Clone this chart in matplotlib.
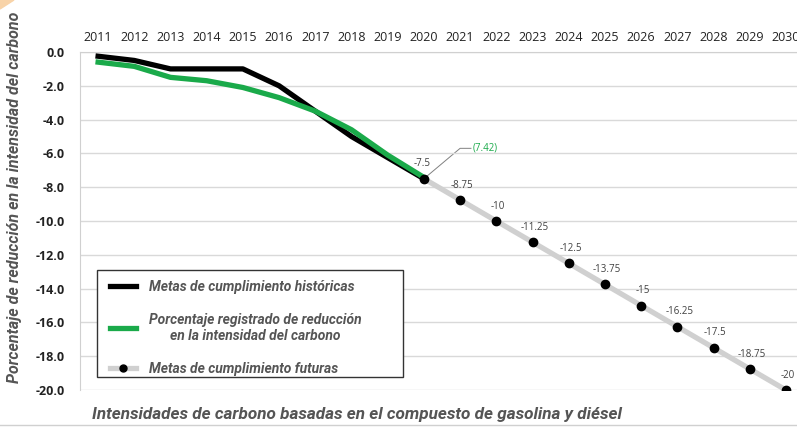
import matplotlib.pyplot as plt
from matplotlib.patches import Polygon, Rectangle
import numpy as np

years = ['2011', '2012', '2013', '2014', '2015', '2016', '2017', '2018', '2019', '2020',
         '2021', '2022', '2023', '2024', '2025', '2026', '2027', '2028', '2029', '2030']
historicas = [-0.25, -0.5, -1.0, -1.0, -1.0, -2.0, -3.5, -5.0, -6.25, -7.5]
registrado = [-0.6, -0.85, -1.5, -1.7, -2.1, -2.7, -3.5, -4.6, -6.1, -7.42]
futuras = [-7.5, -8.75, -10, -11.25, -12.5, -13.75, -15, -16.25, -17.5, -18.75, -20]
futuras_lbl = ['-7.5', '-8.75', '-10', '-11.25', '-12.5', '-13.75', '-15', '-16.25', '-17.5', '-18.75', '-20']
yticks = [0, -2, -4, -6, -8, -10, -12, -14, -16, -18, -20]

cond = ['Roboto', 'DejaVu Sans']
txt_gray = '#555555'
verde = '#1aaa4a'

fig = plt.figure(figsize=(7.97, 4.29), dpi=100)
ax = fig.add_axes([80 / 797, 1 - 390 / 429, 724 / 797, 338 / 429])

x_hist = np.arange(len(historicas))
x_fut = np.arange(9, 9 + len(futuras))

ax.plot(x_fut, futuras, color='#d0d0d0', lw=3.8, zorder=2, solid_capstyle='butt')
ax.plot(x_fut, futuras, 'o', color='black', ms=6, zorder=4)
ax.plot(x_hist, historicas, color='black', lw=3.8, zorder=3)
ax.plot(x_hist, registrado, color=verde, lw=3.8, zorder=3)

for x, y, t in zip(x_fut, futuras, futuras_lbl):
    dx = -0.05 if x == 9 else 0.05
    ax.text(x + dx, y + 0.55, t, ha='center', va='bottom', fontsize=7,
            color='#404040', family='Open Sans')

ax.plot([9, 10, 10.3], [-7.5, -5.7, -5.7], color='#808080', lw=0.7, zorder=1)
ax.text(10.35, -5.7, '(7.42)', color=verde, fontsize=7, va='center',
        family='Open Sans')

ax.set_xlim(-0.5, 19.5)
ax.set_ylim(-20, 0)
ax.set_yticks(yticks)
ax.set_yticklabels(['%.1f' % v for v in yticks], fontweight='bold', family='Open Sans',
                   fontsize=9, color='#222222')
ax.xaxis.tick_top()
ax.set_xticks(np.arange(len(years)))
ax.set_xticklabels(years, family='Open Sans', fontsize=9, color='#222222')
ax.tick_params(axis='x', length=0, pad=6)
ax.tick_params(axis='y', length=0, pad=11)
ax.grid(axis='y', color='#d9d9d9', lw=1)
for s in ['right', 'bottom']:
    ax.spines[s].set_visible(False)
ax.spines['top'].set_color('#d0d0d0')
ax.spines['left'].set_color('#d0d0d0')

# legend box drawn separately so it can be wider than the entries
ax.add_patch(Rectangle(((97 - 80) / 724, (390 - 377) / 338), 306 / 724, 107 / 338,
                       transform=ax.transAxes, facecolor='white', edgecolor='#333333',
                       lw=1, zorder=5))
leg = ax.legend(
    [plt.Line2D([], [], color='black', lw=3.8),
     plt.Line2D([], [], color=verde, lw=3.8),
     plt.Line2D([], [], color='#d0d0d0', lw=3.8, marker='o', mfc='black', mec='black', ms=5)],
    ['Metas de cumplimiento históricas',
     'Porcentaje registrado de reducción\nen la intensidad del carbono',
     'Metas de cumplimiento futuras'],
    loc='upper left', bbox_to_anchor=((110 - 80) / 724, (390 - 280) / 338),
    frameon=False, handlelength=1.9, handletextpad=0.9, labelspacing=1.35,
    borderpad=0, borderaxespad=0,
    prop={'family': cond, 'weight': 'bold', 'style': 'italic', 'size': 10})
leg.set_zorder(6)
for t in leg.get_texts():
    t.set_color(txt_gray)
    t.set_ha('center')

fig.text(15 / 797, 1 - 197 / 429, 'Porcentaje de reducción en la intensidad del carbono',
         rotation=90, ha='center', va='center', fontsize=11.5, fontweight='bold',
         style='italic', color=txt_gray, family=cond)
fig.text(92 / 797, 1 - 415 / 429, 'Intensidades de carbono basadas en el compuesto de gasolina y diésel',
         ha='left', va='center', fontsize=12.3, fontweight='bold', style='italic',
         color=txt_gray, family=cond)
fig.add_artist(plt.Line2D([0.0, 1.0], [1 - 425 / 429] * 2, color='#d0d0d0', lw=1))
fig.add_artist(Polygon([[0, 1], [14 / 797, 1], [0, 1 - 9 / 429]], closed=True,
                       color='#f8d3a8', transform=fig.transFigure))

fig.savefig('out.png', dpi=100)
